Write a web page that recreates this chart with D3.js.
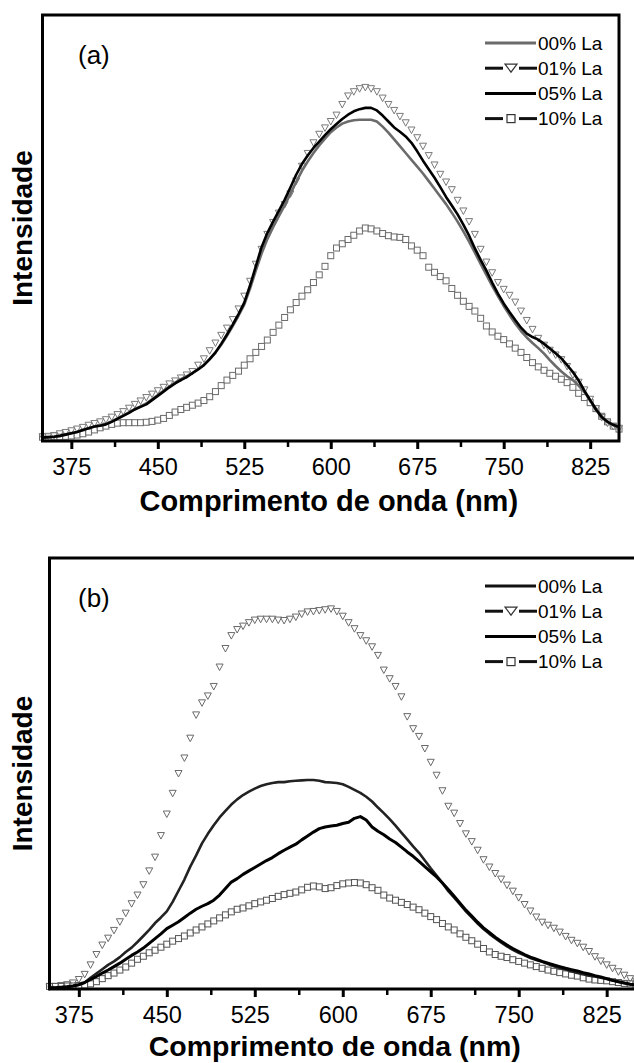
<!DOCTYPE html>
<html>
<head>
<meta charset="utf-8">
<script src="https://cdn.jsdelivr.net/npm/d3@7"></script>
<style>
  body { margin: 0; background: #fff; }
  svg { display: block; font-family: "Liberation Sans", Arial, sans-serif; }
</style>
</head>
<body>
<svg id="chart" width="634" height="1063"></svg>
<script>
// wavelength grid (nm), one sample every 5 nm
let wl = d3.range(350, 851, 5);

// panel (a) intensities (arbitrary units, 0-100 of plot height)
let a00 = [0.8,0.9,1.0,1.2,1.5,1.8,2.1,2.6,3.0,3.4,3.7,4.0,4.6,5.3,6.0,6.7,7.5,8.1,8.8,9.8,
  10.8,11.8,12.8,13.7,14.5,15.2,16.0,16.9,17.9,19.2,20.7,22.6,24.7,27.0,29.4,32.0,35.8,40.0,44.0,47.4,
  50.2,52.8,55.3,58.0,60.8,63.4,65.6,67.6,69.4,71.0,72.5,73.6,74.5,75.0,75.3,75.4,75.4,75.4,75.0,73.8,
  72.4,70.8,69.2,67.6,66.0,64.4,62.8,61.0,59.2,57.4,55.6,53.6,51.5,49.2,46.8,44.2,41.6,39.0,36.4,34.0,
  31.7,29.6,27.6,25.8,24.3,23.0,21.8,20.5,19.0,17.6,16.3,15.2,14.3,13.0,11.5,9.5,7.6,5.8,4.5,3.7,3.2];
let a01 = [1.0,1.1,1.3,1.7,2.0,2.4,2.8,3.2,3.7,4.1,4.5,5.0,5.6,6.2,6.9,7.7,8.6,9.4,10.2,11.0,
  11.8,12.6,13.4,14.1,14.8,15.5,16.3,17.8,19.3,21.2,23.0,24.8,26.5,28.5,31.0,34.0,37.5,41.5,45.0,48.5,
  51.3,53.5,55.5,58.0,61.0,64.5,67.5,70.0,72.0,73.5,75.0,76.5,79.0,81.0,82.0,82.7,83.0,82.7,82.0,80.5,
  79.0,77.6,76.2,74.7,73.0,71.2,69.2,67.0,64.8,62.6,60.8,59.0,56.5,54.0,51.5,48.5,45.0,42.0,39.5,37.2,
  35.6,34.2,32.6,30.5,28.3,26.2,24.1,22.5,21.3,20.2,19.1,17.5,15.5,13.8,12.0,9.8,7.6,5.5,4.2,3.4,3.0];
let a05 = [0.8,0.9,1.0,1.2,1.5,1.8,2.1,2.6,3.0,3.4,3.6,3.9,4.5,5.2,5.9,6.6,7.4,8.0,8.6,9.6,
  10.6,11.6,12.6,13.5,14.3,15.0,15.9,16.8,17.8,19.2,20.8,22.8,25.0,27.3,29.8,32.5,36.5,41.0,45.5,48.8,
  51.5,54.0,56.6,59.5,62.5,65.0,67.0,68.8,70.3,71.8,73.2,74.4,75.6,76.6,77.4,77.9,78.2,78.2,77.6,76.4,
  75.0,73.6,72.6,71.5,70.0,68.0,65.8,63.8,61.8,59.6,57.3,55.3,53.2,50.8,48.2,45.2,42.5,40.0,37.2,34.6,
  32.3,30.3,28.4,26.6,25.2,24.4,23.8,22.8,21.7,20.6,19.4,17.8,16.2,14.2,11.8,9.6,7.4,5.6,4.5,3.8,3.3];
let a10 = [0.9,0.9,1.0,1.0,1.1,1.2,1.4,1.7,2.1,2.6,3.1,3.5,3.9,4.2,4.3,4.3,4.3,4.3,4.4,4.6,
  4.9,5.3,6.0,6.8,7.4,7.9,8.4,8.9,9.5,10.4,11.6,13.0,14.3,15.4,16.4,17.8,19.3,20.8,22.2,23.7,
  25.5,27.2,29.0,30.8,32.5,34.0,35.5,37.2,39.0,41.0,43.5,45.3,46.3,47.3,48.3,49.3,50.0,49.8,49.3,48.7,
  48.2,47.9,47.8,47.3,45.8,44.8,43.5,40.8,39.6,38.6,37.6,35.8,34.2,32.8,31.6,30.5,28.8,27.0,25.6,24.6,
  23.8,22.8,21.8,20.8,19.6,18.4,17.4,16.6,15.9,15.2,14.5,13.7,12.6,11.2,10.2,9.0,7.6,5.8,4.5,3.5,2.8];

// panel (b) intensities
let b00 = [0.3,0.3,0.4,0.5,0.7,1.0,1.5,2.6,3.6,4.6,5.6,6.4,7.4,8.6,9.6,10.9,12.3,13.7,15.3,16.6,
  18.0,20.2,22.8,25.4,28.4,31.0,33.8,36.0,38.0,39.8,41.3,42.8,44.0,45.0,45.8,46.5,47.1,47.5,47.8,48.0,
  48.0,48.2,48.3,48.4,48.5,48.5,48.3,48.0,47.9,47.8,47.5,46.9,46.2,45.5,44.6,43.5,42.1,40.8,39.4,37.9,
  36.3,34.7,33.1,31.6,29.8,28.0,26.3,24.6,22.7,21.2,19.6,18.0,16.6,15.2,13.9,12.8,11.8,10.8,9.9,9.1,
  8.4,7.8,7.2,6.7,6.3,5.8,5.3,4.9,4.5,4.1,3.7,3.4,3.1,2.9,2.6,2.3,2.0,1.7,1.4,1.1,0.9];
let b01 = [0.5,0.6,0.8,1.0,1.4,2.2,3.4,5.6,8.0,10.2,11.8,13.6,15.6,17.6,19.8,21.8,24.2,27.4,30.6,35.6,
  40.6,45.4,50.0,53.6,58.2,63.6,66.4,68.0,70.2,74.7,79.0,82.0,83.4,84.2,85.0,85.6,85.8,85.8,85.8,85.6,
  85.5,85.8,86.3,87.0,87.5,87.6,87.8,88.0,88.2,87.6,86.5,85.0,83.6,82.0,80.8,79.4,77.4,74.0,72.0,70.2,
  67.8,63.2,60.4,58.6,55.8,52.6,49.6,46.0,42.4,40.8,38.4,36.0,34.2,32.2,30.0,28.3,26.8,25.5,24.1,22.7,
  21.2,19.6,18.1,16.7,15.5,14.8,14.1,13.2,12.2,11.3,10.6,9.7,8.7,7.5,6.5,5.6,4.8,4.0,3.2,2.4,1.8];
let b05 = [0.3,0.3,0.4,0.5,0.7,1.0,1.5,2.2,2.9,3.7,4.4,5.2,6.0,6.9,7.8,8.6,9.5,10.6,11.7,12.8,
  14.0,14.8,15.6,16.6,17.6,18.5,19.2,19.8,20.6,21.8,23.3,24.8,25.6,26.6,27.4,28.2,29.0,29.8,30.5,31.4,
  32.2,32.9,33.6,34.6,35.5,36.4,37.2,37.6,37.8,38.0,38.4,38.7,39.6,40.0,39.2,37.6,36.6,35.8,34.8,34.0,
  32.9,31.8,30.8,29.6,28.4,27.2,26.0,24.6,23.1,21.5,19.9,18.3,16.9,15.5,14.2,13.1,12.0,11.1,10.2,9.4,
  8.7,8.0,7.4,6.9,6.4,6.0,5.6,5.2,4.8,4.5,4.2,3.8,3.5,3.1,2.8,2.4,2.0,1.7,1.4,1.1,0.9];
let b10 = [0.6,0.6,0.6,0.7,0.7,0.8,0.9,1.2,1.7,2.4,3.1,3.7,4.4,5.1,6.0,6.9,7.6,8.4,9.0,9.7,
  10.4,11.1,11.7,12.3,13.0,13.7,14.4,15.1,15.8,16.5,17.2,17.9,18.5,18.8,19.3,19.8,20.2,20.6,21.0,21.5,
  21.9,22.2,22.5,23.0,23.6,23.9,23.7,23.3,23.5,24.0,24.4,24.6,24.7,24.6,24.2,23.5,22.9,21.8,21.1,20.6,
  20.1,19.6,19.0,18.4,17.6,16.8,16.1,15.2,14.4,13.7,12.8,12.0,11.2,10.4,9.4,8.6,8.0,7.6,7.3,6.8,
  6.4,6.0,5.6,5.2,4.8,4.4,4.1,3.8,3.5,3.2,3.0,2.6,2.3,2.1,2.0,1.9,1.7,1.5,1.3,1.2,1.0];

let xTicks = [375, 450, 525, 600, 675, 750, 825];
let xMinor = [412.5, 487.5, 562.5, 637.5, 712.5, 787.5];
let legendLabels = ["00% La", "01% La", "05% La", "10% La"];
let xTitle = "Comprimento de onda (nm)";
let yTitle = "Intensidade";

let svg = d3.select("#chart");

function drawPanel(p) {
  let x = d3.scaleLinear().domain([350, 850]).range([p.left, p.right]);
  let y = d3.scaleLinear().domain([0, 100]).range([p.bottom, p.top]);
  let g = svg.append("g");

  let pts = function(arr) { return arr.map(function(v, i) { return [wl[i], v]; }); };
  let line = d3.line().x(function(d) { return x(d[0]); }).y(function(d) { return y(d[1]); });

  p.series.forEach(function(s) {
    let data = pts(s.values);
    if (s.kind == "line") {
      g.append("path").datum(data)
        .attr("fill", "none").attr("stroke", s.color)
        .attr("stroke-width", s.width).attr("stroke-linejoin", "round")
        .attr("d", line);
    } else if (s.kind == "tri") {
      g.append("g").selectAll("path").data(data).enter().append("path")
        .attr("transform", function(d) { return "translate(" + x(d[0]) + "," + y(d[1]) + ")"; })
        .attr("d", "M-3.5,-3 L3.5,-3 L0,3.5 Z")
        .attr("fill", "#fff").attr("fill-opacity", 0.6)
        .attr("stroke", s.color).attr("stroke-width", 1);
    } else {
      g.append("g").selectAll("rect").data(data).enter().append("rect")
        .attr("x", function(d) { return x(d[0]) - 3; })
        .attr("y", function(d) { return y(d[1]) - 3; })
        .attr("width", 6).attr("height", 6)
        .attr("fill", "#fff").attr("fill-opacity", 0.6)
        .attr("stroke", s.color).attr("stroke-width", 1);
    }
  });

  // frame
  g.append("rect")
    .attr("x", p.left).attr("y", p.top)
    .attr("width", p.right - p.left).attr("height", p.bottom - p.top)
    .attr("fill", "none").attr("stroke", "#000").attr("stroke-width", 3);

  // bottom axis
  let ax = g.append("g").attr("transform", "translate(0," + p.bottom + ")")
    .call(d3.axisBottom(x).tickValues(xTicks).tickSize(8).tickPadding(9).tickFormat(d3.format("d")));
  ax.select(".domain").remove();
  ax.selectAll(".tick line").attr("stroke-width", 3);
  ax.selectAll(".tick text").attr("font-size", 23.5).attr("fill", "#000").attr("dx", p.labelShift)
    .attr("font-family", "Liberation Sans, Arial, sans-serif");
  let axm = g.append("g").attr("transform", "translate(0," + p.bottom + ")")
    .call(d3.axisBottom(x).tickValues(xMinor).tickSize(6).tickFormat(""));
  axm.select(".domain").remove();
  axm.selectAll(".tick line").attr("stroke-width", 2.5);

  g.append("text").attr("x", (p.left + p.right) / 2 + p.titleShift).attr("y", p.bottom + p.titleGap)
    .attr("text-anchor", "middle").attr("font-size", p.titleSize).attr("font-weight", "bold")
    .text(xTitle);

  g.append("text")
    .attr("transform", "translate(32," + ((p.top + p.bottom) / 2) + ") rotate(-90)")
    .attr("text-anchor", "middle").attr("font-size", 28).attr("font-weight", "bold")
    .text(yTitle);

  g.append("text").attr("x", 78).attr("y", p.top + 49)
    .attr("font-size", 26).text(p.tag);

  // legend
  let lg = g.append("g");
  p.series.forEach(function(s, i) {
    let ly = p.top + 28 + i * 25.2;
    let row = lg.append("g").attr("transform", "translate(0," + ly + ")");
    let ls = p.series.find(function(q) { return q.name == legendLabels[i]; });
    if (ls.kind == "line") {
      row.append("line").attr("x1", 485).attr("x2", 536).attr("stroke", ls.legendColor)
        .attr("stroke-width", 3);
    } else {
      row.append("line").attr("x1", 485).attr("x2", 503).attr("stroke", "#111").attr("stroke-width", 3);
      row.append("line").attr("x1", 519).attr("x2", 537).attr("stroke", "#111").attr("stroke-width", 3);
      if (ls.kind == "tri") {
        row.append("path").attr("d", "M505,-4 L517,-4 L511,4 Z")
          .attr("fill", "none").attr("stroke", "#333").attr("stroke-width", 1.2);
      } else {
        row.append("rect").attr("x", 507).attr("y", -4).attr("width", 8).attr("height", 8)
          .attr("fill", "none").attr("stroke", "#333").attr("stroke-width", 1.2);
      }
    }
    row.append("text").attr("x", 538).attr("y", 6.8).attr("font-size", 19).text(legendLabels[i]);
  });
}

drawPanel({
  tag: "(a)", left: 42.5, right: 619, top: 15, bottom: 441,
  titleShift: -2, titleGap: 70, titleSize: 29, labelShift: 0,
  series: [
    { name: "10% La", kind: "sq", values: a10, color: "#6a6a6a" },
    { name: "01% La", kind: "tri", values: a01, color: "#7a7a7a" },
    { name: "00% La", kind: "line", values: a00, color: "#6b6b6b", width: 2.6, legendColor: "#6b6b6b" },
    { name: "05% La", kind: "line", values: a05, color: "#000", width: 2.6, legendColor: "#000" }
  ]
});

drawPanel({
  tag: "(b)", left: 49.5, right: 636, top: 558, bottom: 989,
  titleShift: -8, titleGap: 67, titleSize: 28.5, labelShift: -5,
  series: [
    { name: "01% La", kind: "tri", values: b01, color: "#6a6a6a" },
    { name: "10% La", kind: "sq", values: b10, color: "#555" },
    { name: "00% La", kind: "line", values: b00, color: "#222", width: 2.6, legendColor: "#111" },
    { name: "05% La", kind: "line", values: b05, color: "#000", width: 3, legendColor: "#000" }
  ]
});
</script>
</body>
</html>
